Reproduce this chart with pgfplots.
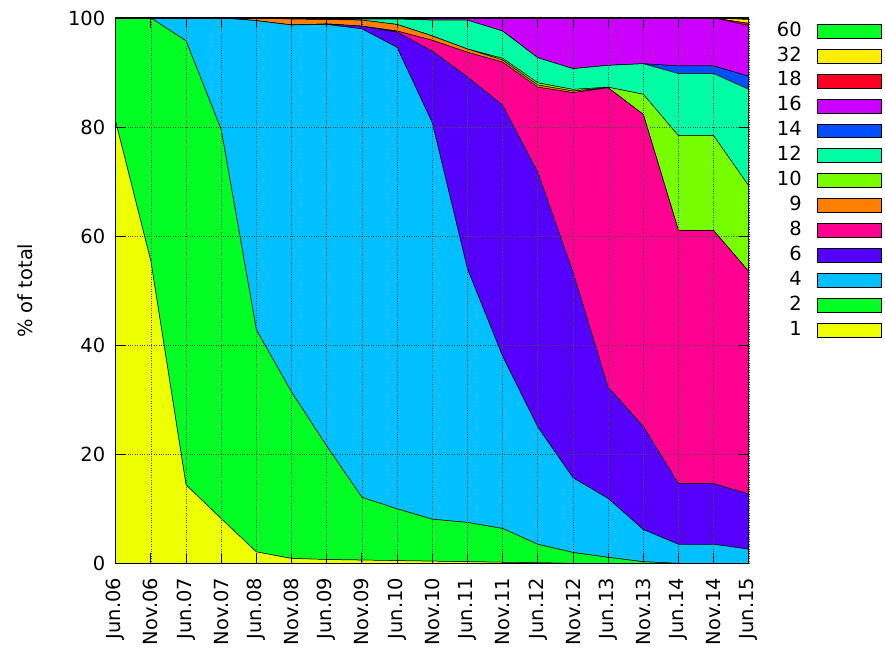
\documentclass[border=0pt]{standalone}
\usepackage{fontspec}
\setmainfont{DejaVu Sans}
\usepackage{pgfplots}
\usepackage{pgfplotstable}
\pgfplotsset{compat=1.18}
\definecolor{c1}{HTML}{EEFF00}
\definecolor{c2}{HTML}{00FF22}
\definecolor{c4}{HTML}{00C0FF}
\definecolor{c6}{HTML}{5500FF}
\definecolor{c8}{HTML}{FF0090}
\definecolor{c9}{HTML}{FF7F00}
\definecolor{c10}{HTML}{77FF00}
\definecolor{c12}{HTML}{00FFA5}
\definecolor{c14}{HTML}{0050FF}
\definecolor{c16}{HTML}{CC00FF}
\definecolor{c18}{HTML}{FF0022}
\definecolor{c32}{HTML}{FFEE00}
\definecolor{c60}{HTML}{00FF22}
\pgfplotstableread{
x s1 s2 s4 s6 s8 s9 s10 s12 s14 s16 s18 s32 s60
0 81 19 0 0 0 0 0 0 0 0 0 0 0
1 55.4 44.6 0 0 0 0 0 0 0 0 0 0 0
2 14.4 81.4 4.2 0 0 0 0 0 0 0 0 0 0
3 8.2 71.3 20.5 0 0 0 0 0 0 0 0 0 0
4 2.1 40.7 56.7 0 0 0.5 0 0 0 0 0 0 0
5 0.9 30.5 67.3 0 0 1.1 0 0 0 0.2 0 0 0
6 0.7 20.8 77.3 0.1 0 0.8 0 0.1 0 0.2 0 0 0
7 0.6 11.5 85.9 0.5 0 1.1 0 0.2 0 0.2 0 0 0
8 0.5 9.5 84.6 2.8 0.2 1.2 0 1.0 0 0.2 0 0 0
9 0.4 7.7 72.7 13.1 2.0 0.8 0 2.9 0 0.4 0 0 0
10 0.3 7.2 46.5 35.2 4.5 0.6 0 5.3 0 0.4 0 0 0
11 0.2 6.2 31.6 46.0 7.9 0.4 0.3 5.0 0 2.4 0 0 0
12 0.1 3.4 21.5 46.7 15.6 0.4 0.4 4.6 0 7.3 0 0 0
13 0 2.0 13.7 37.7 32.9 0.3 0.3 3.8 0 9.3 0 0 0
14 0 1.1 10.8 20.4 54.9 0 0.1 4.0 0 8.7 0 0 0
15 0 0.3 5.9 18.9 57.2 0 3.7 5.6 0 8.4 0 0 0
16 0 0 3.5 11.1 46.4 0 17.4 11.4 1.4 8.8 0 0 0
17 0 0 3.5 11.1 46.4 0 17.4 11.4 1.4 8.8 0 0 0
18 0 0 2.6 10.1 40.8 0 15.7 17.7 2.4 9.3 0.4 0.7 0.3
}\datatable
\begin{document}
\begin{tikzpicture}[font=\fontsize{19.5bp}{23bp}\selectfont]
\begin{axis}[
  name=ax,
  scale only axis,
  width=635bp, height=547bp,
  xmin=0, xmax=18, ymin=0, ymax=100,
  stack plots=y,
  xtick={0,...,18},
  xticklabels={Jun.06,Nov.06,Jun.07,Nov.07,Jun.08,Nov.08,Jun.09,Nov.09,Jun.10,Nov.10,Jun.11,Nov.11,Jun.12,Nov.12,Jun.13,Nov.13,Jun.14,Nov.14,Jun.15},
  xticklabel style={rotate=90, anchor=east},
  xticklabel shift=11bp,
  yticklabel shift=7bp,
  ytick={0,20,40,60,80,100},
  /pgf/number format/assume math mode=true,
  grid=major,
  grid style={dotted, black!70, line width=0.6pt},
  major tick length=10bp,
  tick style={black, line width=0.8pt},
  axis line style={black, line width=1.2pt},
  axis on top,
  ylabel={\% of total},
  every axis y label/.style={at={(axis description cs:-0.143,0.5)}, rotate=90, anchor=center},
  legend plot pos=right,
  reverse legend,
  legend cell align=right,
  legend image code/.code={\draw[#1, draw=black, line width=0.6pt] (0bp,-7bp) rectangle (65bp,7bp);},
  legend style={at={(rel axis cs:1,1)}, anchor=north west, xshift=24bp, yshift=-1bp, draw=none, fill=none,
    nodes={inner sep=1bp, text height=14bp, text depth=4bp}, row sep=5bp, /tikz/column sep=14bp},
]
\addplot[fill=c1, draw=black, line width=0.5pt] table[x=x,y=s1]{\datatable} \closedcycle;
\addplot[fill=c2, draw=black, line width=0.5pt] table[x=x,y=s2]{\datatable} \closedcycle;
\addplot[fill=c4, draw=black, line width=0.5pt] table[x=x,y=s4]{\datatable} \closedcycle;
\addplot[fill=c6, draw=black, line width=0.5pt] table[x=x,y=s6]{\datatable} \closedcycle;
\addplot[fill=c8, draw=black, line width=0.5pt] table[x=x,y=s8]{\datatable} \closedcycle;
\addplot[fill=c9, draw=black, line width=0.5pt] table[x=x,y=s9]{\datatable} \closedcycle;
\addplot[fill=c10, draw=black, line width=0.5pt] table[x=x,y=s10]{\datatable} \closedcycle;
\addplot[fill=c12, draw=black, line width=0.5pt] table[x=x,y=s12]{\datatable} \closedcycle;
\addplot[fill=c14, draw=black, line width=0.5pt] table[x=x,y=s14]{\datatable} \closedcycle;
\addplot[fill=c16, draw=black, line width=0.5pt] table[x=x,y=s16]{\datatable} \closedcycle;
\addplot[fill=c18, draw=black, line width=0.5pt] table[x=x,y=s18]{\datatable} \closedcycle;
\addplot[fill=c32, draw=black, line width=0.5pt] table[x=x,y=s32]{\datatable} \closedcycle;
\addplot[fill=c60, draw=black, line width=0.5pt] table[x=x,y=s60]{\datatable} \closedcycle;
\legend{1,2,4,6,8,9,10,12,14,16,18,32,60}
\end{axis}
\path (ax.south west) ++(-116bp,-85bp);
\path (ax.north east) ++(134bp,18bp);
\end{tikzpicture}
\end{document}
